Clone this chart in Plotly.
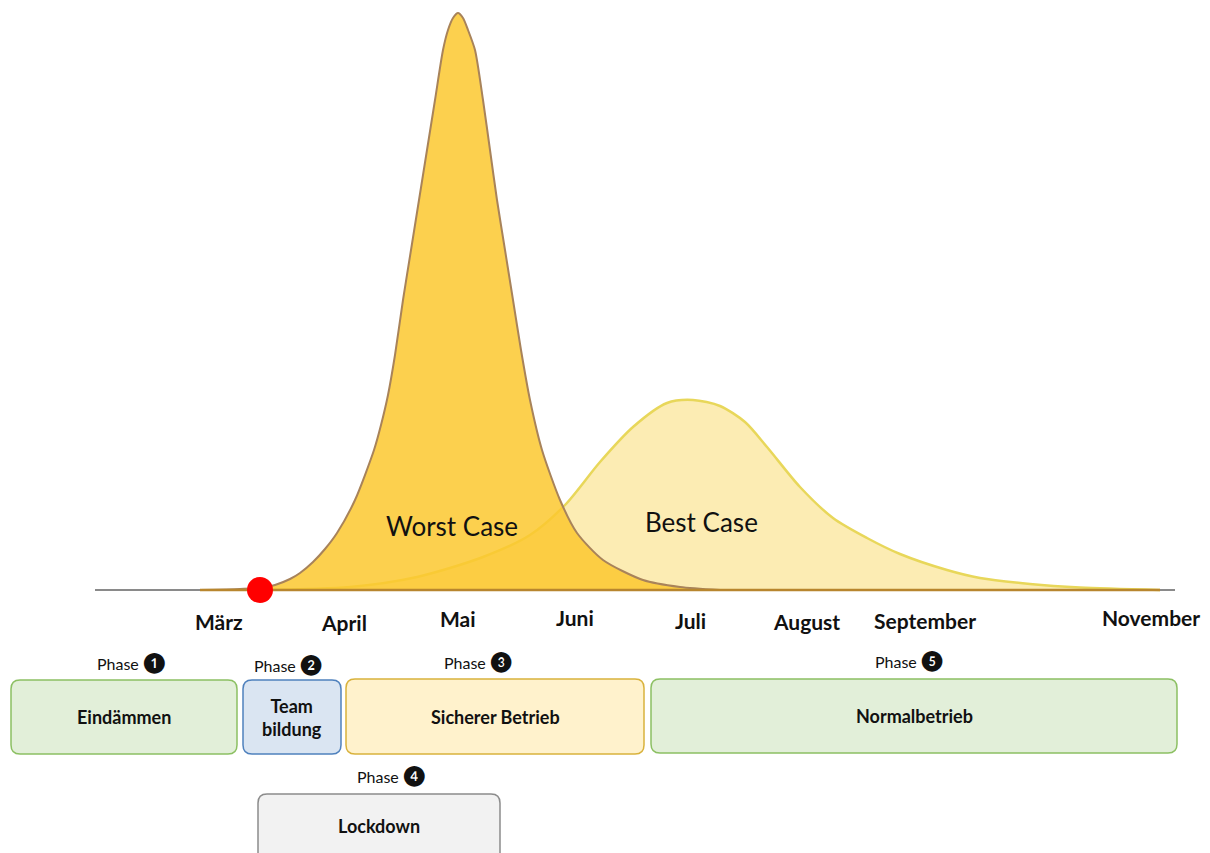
import plotly.graph_objects as go

# ---- data (pixel-like diagram units; heights measured above the baseline) ----
worst_x = [200, 240, 260, 275, 290, 300, 313, 325, 337, 355, 374, 381, 388, 395, 403, 411, 419, 427,
           435, 443, 448, 453, 458, 463, 468, 475, 483, 490, 497, 505, 513, 521, 530, 542, 560, 577,
           603, 643, 680, 720]
worst_h = [0, 1, 2, 5, 11, 17, 28, 41, 57, 90, 140, 165, 195, 235, 290, 340, 390, 440,
           490, 540, 560, 572, 577, 572, 560, 540, 490, 440, 390, 340, 290, 240, 190, 140, 90, 57,
           30, 10, 3, 0]

best_x = [260, 350, 417, 483, 530, 565, 600, 633, 667, 693, 720, 745, 767, 800, 833, 867, 900,
          947, 980, 1030, 1080, 1160]
best_h = [0, 3, 13, 33, 55, 85, 128, 163, 187, 190, 184, 168, 143, 103, 72, 52, 36,
          20, 12, 6, 2.5, 0]

months = ["März", "April", "Mai", "Juni", "Juli", "August", "September", "November"]
month_x = [219, 344, 458, 575, 690, 806, 925, 1151]
month_py = [621, 622, 618, 617, 620, 621, 620, 617]

phase_nums = ["❶", "❷", "❸", "❹", "❺"]
phase_x = [131, 288, 478, 391, 909]
phase_py = [662, 664, 661, 775, 660]

box_names = ["Eindämmen", "Team<br>bildung", "Sicherer Betrieb", "Normalbetrieb", "Lockdown"]
box_x0 = [11, 243, 346, 651, 258]
box_x1 = [237, 341, 644, 1177, 500]
box_py0 = [680, 680, 679, 679, 794]
box_py1 = [754, 754, 754, 753, 870]
box_fill = ["#e2efd9", "#dae5f2", "#fff2cc", "#e2efd9", "#f2f2f2"]
box_line = ["#8cc063", "#4f81bd", "#d9b23c", "#8cc063", "#8c8c8c"]

start_x = 260  # red marker

BASE = 590  # pixel row of the baseline
OFF = 8     # page body margin


def Y(py):
    return BASE - py


def rounded(x0, x1, py0, py1, r=9):
    y0, y1 = Y(py0), Y(py1)  # y0 top (larger), y1 bottom
    return (f"M {x0+r},{y0} L {x1-r},{y0} Q {x1},{y0} {x1},{y0-r} "
            f"L {x1},{y1+r} Q {x1},{y1} {x1-r},{y1} L {x0+r},{y1} "
            f"Q {x0},{y1} {x0},{y1+r} L {x0},{y0-r} Q {x0},{y0} {x0+r},{y0} Z")


FONT = "Lato, 'DejaVu Sans', sans-serif"

fig = go.Figure()

# baseline
fig.add_trace(go.Scatter(x=[95, 1175], y=[0, 0], mode="lines",
                         line=dict(color="#8a8a8a", width=2), hoverinfo="skip"))

# best case
fig.add_trace(go.Scatter(x=best_x, y=best_h, mode="lines", fill="tozeroy",
                         fillcolor="#fcecb3",
                         line=dict(color="#e8d75a", width=2.5, shape="spline", smoothing=0.8),
                         hoverinfo="skip"))
# worst case
fig.add_trace(go.Scatter(x=worst_x, y=worst_h, mode="lines", fill="tozeroy",
                         fillcolor="rgba(252,200,47,0.85)",
                         line=dict(color="#a8835a", width=2, shape="spline", smoothing=0.7),
                         hoverinfo="skip"))

# golden baseline under the curves
fig.add_trace(go.Scatter(x=[200, 1160], y=[0, 0], mode="lines",
                         line=dict(color="#b8862e", width=2.5), hoverinfo="skip"))

# red start marker
fig.add_trace(go.Scatter(x=[start_x], y=[0], mode="markers",
                         marker=dict(color="#ff0000", size=26, line=dict(width=0)),
                         hoverinfo="skip"))

shapes = []
annotations = []
for name, x0, x1, p0, p1, fc, lc in zip(box_names, box_x0, box_x1, box_py0, box_py1,
                                         box_fill, box_line):
    shapes.append(dict(type="path", path=rounded(x0, x1, p0, p1), fillcolor=fc,
                       line=dict(color=lc, width=1.5), layer="above"))
    cy = (p0 + p1) / 2 if p1 <= 853 else (p0 + 857) / 2
    annotations.append(dict(x=(x0 + x1) / 2, y=Y(cy), text=f"<b>{name}</b>", showarrow=False,
                            font=dict(family=FONT, size=18, color="#111111"),
                            xanchor="center", yanchor="middle"))

for m, mx, mp in zip(months, month_x, month_py):
    annotations.append(dict(x=mx, y=Y(mp), text=f"<b>{m}</b>", showarrow=False,
                            font=dict(family=FONT, size=21, color="#111111"),
                            xanchor="center", yanchor="middle"))

for n, px, pp in zip(phase_nums, phase_x, phase_py):
    annotations.append(dict(x=px, y=Y(pp),
                            text=f"Phase <span style='font-size:20px'>{n}</span>",
                            showarrow=False,
                            font=dict(family=FONT, size=16, color="#111111"),
                            xanchor="center", yanchor="middle"))

annotations.append(dict(x=452, y=Y(526), text="Worst Case", showarrow=False,
                        font=dict(family=FONT, size=26, color="#111111"),
                        xanchor="center", yanchor="middle"))
annotations.append(dict(x=701, y=Y(522), text="Best Case", showarrow=False,
                        font=dict(family=FONT, size=26, color="#111111"),
                        xanchor="center", yanchor="middle"))

fig.update_layout(
    width=1210 - OFF, height=853 - OFF, autosize=False,
    margin=dict(l=0, r=0, t=0, b=0),
    paper_bgcolor="white", plot_bgcolor="white",
    showlegend=False,
    xaxis=dict(range=[OFF, 1210], visible=False, fixedrange=True),
    yaxis=dict(range=[Y(853), Y(OFF)], visible=False, fixedrange=True),
    shapes=shapes, annotations=annotations,
)

fig.write_html("out.html", config={"displayModeBar": False})
